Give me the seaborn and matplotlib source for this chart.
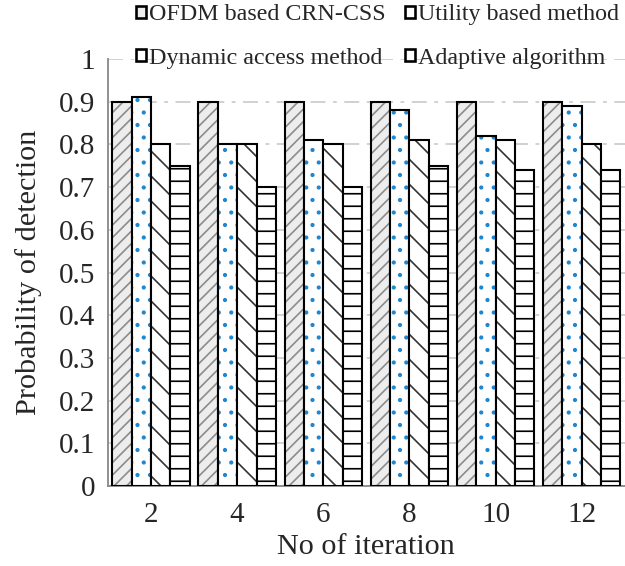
import pandas as pd
import matplotlib
matplotlib.use("Agg")
import matplotlib.pyplot as plt
import seaborn as sns
from matplotlib.patches import Patch
from matplotlib.colors import to_rgba

sns.set_style("white")
plt.rcParams.update({
    "font.family": ["Liberation Serif", "DejaVu Serif"],
    "hatch.linewidth": 1.6,
})

# ---- data ----
iterations = ["2", "4", "6", "8", "10", "12"]
methods = ["OFDM based CRN-CSS", "Utility based method",
           "Dynamic access method", "Adaptive algorithm"]
ofdm = [0.90, 0.90, 0.90, 0.90, 0.90, 0.90]
utility = [0.91, 0.80, 0.81, 0.88, 0.82, 0.89]
dynamic = [0.80, 0.80, 0.80, 0.81, 0.81, 0.80]
adaptive = [0.75, 0.70, 0.70, 0.75, 0.74, 0.74]

rows = []
for name, vals in zip(methods, [ofdm, utility, dynamic, adaptive]):
    for it, v in zip(iterations, vals):
        rows.append({"iteration": it, "method": name, "pd": v})
df = pd.DataFrame(rows)

# fill, hatch, hatch colour per method
styles = {
    "OFDM based CRN-CSS": ("#EDEDED", "//", "#8C8C8C"),
    "Utility based method": ("white", ".", "#1F86D0"),
    "Dynamic access method": ("white", "\\", "#333333"),
    "Adaptive algorithm": ("white", "-", "black"),
}

DPI = 75
fig = plt.figure(figsize=(626 / DPI, 566 / DPI), dpi=DPI)
ax = fig.add_axes([0.1725, 0.1413, 0.8255, 0.7545])

sns.barplot(data=df, x="iteration", y="pd", hue="method", order=iterations,
            hue_order=methods, palette=["white"] * 4, width=0.9,
            edgecolor="black", linewidth=2.0, legend=False, ax=ax, zorder=3)

for cont, name in zip(ax.containers, methods):
    fc, hatch, hc = styles[name]
    for p in cont.patches:
        p.set_facecolor(fc)
        p.set_hatch(hatch)
        p._hatch_color = to_rgba(hc)

ax.set_ylim(0, 1)
ax.set_xlim(-0.5, 5.5)
ax.set_yticks([i / 10 for i in range(11)])
ax.set_yticklabels(["0"] + [f"0.{i}" for i in range(1, 10)] + ["1"])
ax.yaxis.grid(True, color="#D0D0D0", linestyle=(0, (8, 4, 2, 4)), linewidth=1.8, zorder=0)
ax.set_axisbelow(True)

# Excel-style category boundary ticks
ax.set_xticks(range(6))
ax.set_xticks([i - 0.5 for i in range(7)], minor=True)
ax.tick_params(axis="x", which="major", length=0, pad=15, labelsize=28)
ax.tick_params(axis="x", which="minor", length=8, width=1.5, color="#8C8C8C", direction="out")
ax.tick_params(axis="y", length=7, width=1.5, color="#8C8C8C", direction="out", labelsize=28, pad=5)

for s in ["top", "right"]:
    ax.spines[s].set_visible(False)
for s in ["left", "bottom"]:
    ax.spines[s].set_color("#8C8C8C")
    ax.spines[s].set_linewidth(1.8)

ax.set_xlabel("No of iteration", fontsize=29, labelpad=6)
ax.set_ylabel("Probability of detection", fontsize=29, labelpad=16)

# legend filled row-wise like the original
order = [0, 2, 1, 3]
handles = []
for i in order:
    name = methods[i]
    fc, hatch, hc = styles[name]
    handles.append(Patch(facecolor=fc, edgecolor="black", linewidth=2.5, label=name))
fig.legend(handles=handles, ncol=2, loc="upper right",
           bbox_to_anchor=(1.012, 1.018), frameon=False, fontsize=23,
           handlelength=0.4, handleheight=0.4, handletextpad=0.15,
           columnspacing=0.8, labelspacing=0.95, borderaxespad=0.2)

fig.savefig("out.png", dpi=DPI, facecolor="white")
